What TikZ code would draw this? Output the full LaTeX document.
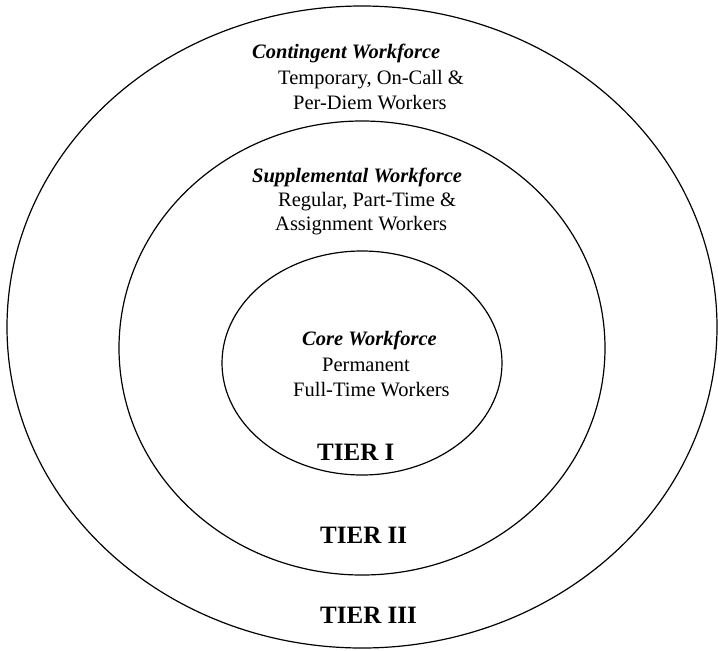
\documentclass[tikz,border=0pt]{standalone}
\usepackage{fontspec}
\setmainfont{Liberation Serif}
\usetikzlibrary{shapes.geometric}

\begin{document}
\begin{tikzpicture}[x=1pt,y=-1pt]
        \tikzstyle{every node}=[inner sep=0pt, font=\fontsize{20.5}{24}\selectfont]
        \tikzstyle{ring}=[draw, ellipse, line width=1.2pt]
        \tikzstyle{head}=[anchor=west, font=\fontsize{20.5}{24}\selectfont\bfseries\itshape]
        \tikzstyle{line}=[anchor=west]
        \tikzstyle{tier}=[anchor=west, font=\fontsize{25}{30}\selectfont\bfseries]
        \useasboundingbox (0,0) rectangle (718,651);
        % the three tiers, outermost first
        \node[ring, minimum width=710pt, minimum height=642pt] (outer) at (362,327) {};
        \node[ring, minimum width=486pt, minimum height=454pt] (middle) at (362,348) {};
        \node[ring, minimum width=280pt, minimum height=224pt] (inner) at (362,363) {};
        % tier III
        \node[head] (contingent) at (252,53) {Contingent Workforce};
        \node[line] (temporary) at (278,80) {Temporary, On-Call \&};
        \node[line] (perdiem) at (293,103) {Per-Diem Workers};
        \node[tier] (tier3) at (320,615) {TIER III};
        % tier II
        \node[head] (supplemental) at (252,177) {Supplemental Workforce};
        \node[line] (regular) at (278,202) {Regular, Part-Time \&};
        \node[line] (assignment) at (275,226) {Assignment Workers};
        \node[tier] (tier2) at (320,535) {TIER II};
        % tier I
        \node[head] (core) at (302,340) {Core Workforce};
        \node[line] (permanent) at (322,365) {Permanent};
        \node[line] (fulltime) at (293,390) {Full-Time Workers};
        \node[tier] (tier1) at (317,452) {TIER I};
\end{tikzpicture}
\end{document}
